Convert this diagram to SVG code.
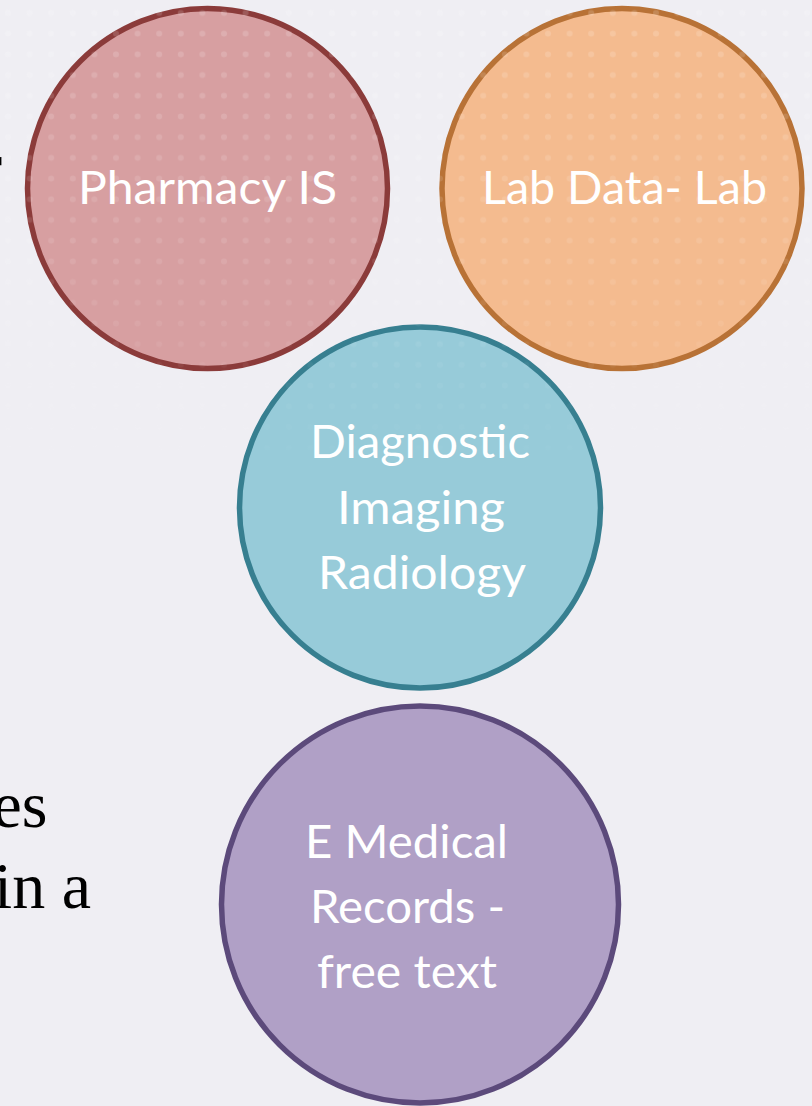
<svg xmlns="http://www.w3.org/2000/svg" width="812" height="1106" viewBox="0 0 812 1106">
  <defs>
    <pattern id="dots" x="-2.8" y="2.6" width="21.6" height="20.7" patternUnits="userSpaceOnUse">
      <circle cx="10.8" cy="10.35" r="3" fill="#ffffff"/>
    </pattern>
    <linearGradient id="fade" x1="0" y1="0" x2="0" y2="1">
      <stop offset="0" stop-color="#fff" stop-opacity="1"/>
      <stop offset="0.55" stop-color="#fff" stop-opacity="0.6"/>
      <stop offset="1" stop-color="#fff" stop-opacity="0"/>
    </linearGradient>
    <mask id="fadeMask" maskUnits="userSpaceOnUse" x="0" y="0" width="812" height="480">
      <rect x="0" y="0" width="812" height="480" fill="url(#fade)"/>
    </mask>
  </defs>
  <style>
    .node { stroke-width: 5.5; }
    .lbl { font-family: Lato, "Open Sans", "DejaVu Sans", sans-serif; font-size: 47px; fill: #ffffff; text-anchor: middle; }
    .bg-text { font-family: "Liberation Serif", "Times New Roman", serif; font-size: 66px; fill: #000000; text-anchor: end; }
  </style>

  <rect x="0" y="0" width="812" height="1106" fill="#efeef3"/>

  <g id="slide-text">
    <text class="bg-text" x="2" y="188">r</text>
    <text class="bg-text" x="47.5" y="827">es</text>
    <text class="bg-text" x="91" y="908">in a</text>
  </g>

  <g id="connectors"></g>

  <g id="node-pharmacy">
    <circle class="node" cx="207.5" cy="188.5" r="180" fill="#d79fa1" stroke="#8b3b3a"/>
  </g>
  <g id="node-lab">
    <circle class="node" cx="622" cy="188.5" r="180" fill="#f4bb8f" stroke="#b87236"/>
  </g>
  <g id="node-imaging">
    <circle class="node" cx="420" cy="507.5" r="180.5" fill="#97cbd9" stroke="#377f90"/>
  </g>
  <g id="node-emr">
    <circle class="node" cx="420" cy="904.5" r="198.5" fill="#b0a0c6" stroke="#5c4a7b"/>
  </g>

  <rect x="0" y="0" width="812" height="480" fill="url(#dots)" opacity="0.16" mask="url(#fadeMask)"/>

  <g id="labels">
    <text class="lbl" x="207.5" y="204" textLength="259" lengthAdjust="spacingAndGlyphs">Pharmacy IS</text>
    <text class="lbl" x="624.5" y="204" textLength="285" lengthAdjust="spacingAndGlyphs">Lab Data- Lab</text>
    <text class="lbl" x="420" y="458" textLength="220" lengthAdjust="spacingAndGlyphs">Diagnostic</text>
    <text class="lbl" x="421" y="524" textLength="168" lengthAdjust="spacingAndGlyphs">Imaging</text>
    <text class="lbl" x="422" y="589" textLength="208" lengthAdjust="spacingAndGlyphs">Radiology</text>
    <text class="lbl" x="406.5" y="858" textLength="203" lengthAdjust="spacingAndGlyphs">E Medical</text>
    <text class="lbl" x="407.5" y="923" textLength="195" lengthAdjust="spacingAndGlyphs">Records -</text>
    <text class="lbl" x="407" y="988" textLength="180" lengthAdjust="spacingAndGlyphs">free text</text>
  </g>
</svg>
